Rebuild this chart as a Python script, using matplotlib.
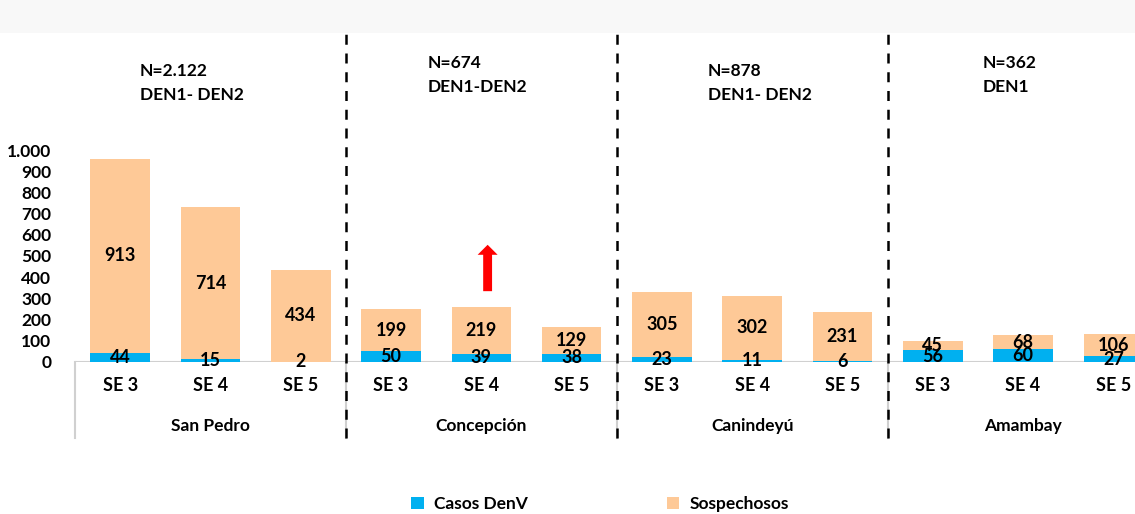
import matplotlib.pyplot as plt
from matplotlib.patches import Rectangle
from matplotlib.lines import Line2D

plt.rcParams['font.family'] = ['Lato', 'DejaVu Sans']

# data
departments = ['San Pedro', 'Concepción', 'Canindeyú', 'Amambay']
weeks = ['SE 3', 'SE 4', 'SE 5']
casos_denv = [44, 15, 2, 50, 39, 38, 23, 11, 6, 56, 60, 27]
sospechosos = [913, 714, 434, 199, 219, 129, 305, 302, 231, 45, 68, 106]
group_notes = ['N=2.122\nDEN1- DEN2', 'N=674\nDEN1-DEN2', 'N=878\nDEN1- DEN2', 'N=362\nDEN1']

BLUE = '#00B0F0'
ORANGE = '#FEC997'

W, H = 1135, 514
fig = plt.figure(figsize=(W / 100, H / 100), dpi=100)

# faint band at the top of the original screenshot
fig.patches.append(Rectangle((0, (H - 33) / H), 1, 33 / H, transform=fig.transFigure,
                             facecolor='#F8F8F8', edgecolor='none', zorder=0))

ax = fig.add_axes([75 / W, (H - 362) / H, (W - 75) / W, 212 / H])

x = list(range(len(casos_denv)))
b1 = ax.bar(x, casos_denv, width=0.66, color=BLUE, label='Casos DenV', zorder=2)
b2 = ax.bar(x, sospechosos, width=0.66, bottom=casos_denv, color=ORANGE,
            label='Sospechosos', zorder=2)

for i in x:
    ax.text(i, casos_denv[i] / 2, str(casos_denv[i]), ha='center', va='center',
            fontsize=13, fontweight='bold', color='black', zorder=3)
    ax.text(i, casos_denv[i] + sospechosos[i] / 2, str(sospechosos[i]), ha='center',
            va='center', fontsize=13, fontweight='bold', color='black', zorder=3)

ax.set_xlim(-0.5, 11.24)
ax.set_ylim(0, 1000)
ax.set_yticks(range(0, 1001, 100))
ax.set_yticklabels([f'{v:,}'.replace(',', '.') for v in range(0, 1001, 100)],
                   fontsize=12.5, fontweight='bold')
ax.tick_params(axis='y', length=0, pad=17)
ax.set_xticks([])
for s in ax.spines.values():
    s.set_visible(False)

# category axis line and group separators
ax.axhline(0, color='#D0D0D0', lw=1.5, zorder=1)
xt = ax.get_xaxis_transform()
for sep in [-0.5, 2.5, 5.5, 8.5]:
    ax.add_line(Line2D([sep, sep], [0, -0.358], transform=xt, color='#D0D0D0',
                       lw=1.5, clip_on=False))
for sep in [2.5, 5.5, 8.5]:
    ax.add_line(Line2D([sep, sep], [-0.358, 1.67], transform=xt, color='black',
                       lw=1.8, ls=(0, (4, 3.5)), clip_on=False, zorder=4))

# week labels and department labels
for i in x:
    ax.text(i, -0.11, weeks[i % 3], transform=xt, ha='center', va='center',
            fontsize=13, fontweight='bold')
for g, name in enumerate(departments):
    ax.text(g * 3 + 1, -0.3, name, transform=xt, ha='center', va='center',
            fontsize=12.5, fontweight='bold')

# N annotations above each group
note_pos = [(140, 83), (428, 75), (708, 83), (983, 75)]
for (px, py), note in zip(note_pos, group_notes):
    fig.text(px / W, (H - py) / H, note, ha='left', va='center', fontsize=12.5,
             fontweight='bold', linespacing=1.55)

# red arrow over Concepción SE 4
ax.annotate('', xy=(4.07, 566), xytext=(4.07, 321),
            arrowprops=dict(arrowstyle='simple,head_length=0.36,head_width=0.72,tail_width=0.32',
                            mutation_scale=20, color='#FF0000', lw=0), zorder=5)

fig.legend(handles=[b1, b2], loc='center', bbox_to_anchor=(600 / W, (H - 504) / H),
           ncol=2, frameon=False, handlelength=0.7, handleheight=0.7,
           columnspacing=8.0, handletextpad=0.6, prop={'weight': 'bold', 'size': 12.5})

fig.savefig('out.png', dpi=100)
